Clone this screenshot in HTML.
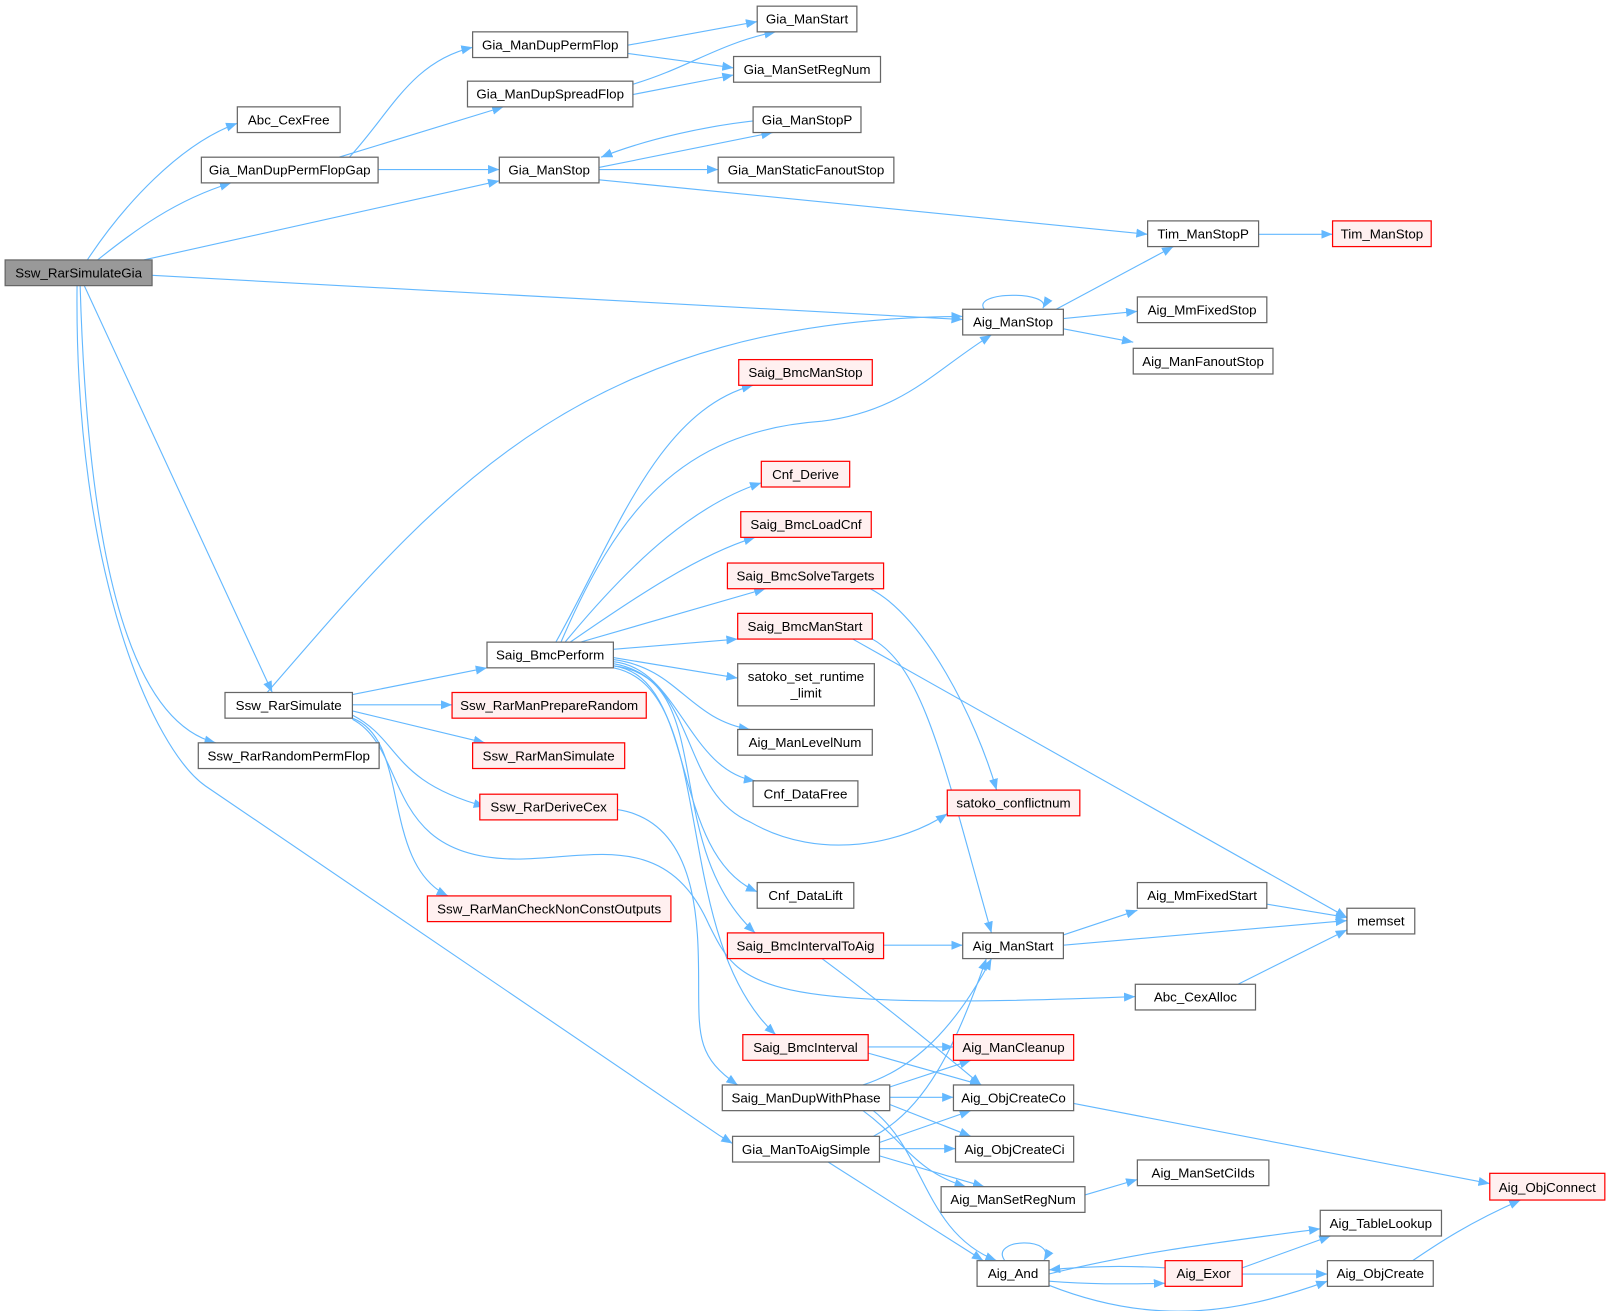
<!DOCTYPE html>
<html><head><meta charset="utf-8"><style>
html,body{margin:0;padding:0;background:#fff;}
svg{display:block;}
text{font-family:"Liberation Sans",Arial,sans-serif;font-size:13px;fill:#000;text-anchor:middle;}
.n{fill:#fff;stroke:#666;stroke-width:1.2;}
.r{fill:#fff0f0;stroke:#f00;stroke-width:1.2;}
.g{fill:#999;stroke:#666;stroke-width:1.2;}
path.e{fill:none;stroke:#63b8ff;stroke-width:1.1;marker-end:url(#a);}
</style></head><body>
<svg width="1611" height="1311" viewBox="0 0 1568 1276" xmlns="http://www.w3.org/2000/svg">
<defs><marker id="a" viewBox="0 0 10 8" refX="10" refY="4" markerWidth="11" markerHeight="9" markerUnits="userSpaceOnUse" orient="auto"><path d="M0,0 L10,4 L0,8 z" fill="#63b8ff"/></marker></defs>
<g>
<path class="e" d="M85,253 C120,200 175,140 231,120"/>
<path class="e" d="M95,253 C130,225 170,195 225,178"/>
<path class="e" d="M140,253 L486,176"/>
<path class="e" d="M148,268 L937,311"/>
<path class="e" d="M82,278 L265,674"/>
<path class="e" d="M78,278 C85,520 120,700 210,723"/>
<path class="e" d="M75,278 C72,560 150,730 200,765 L700,1105 L713,1113"/>
<path class="e" d="M340,153 C380,110 400,60 460,46"/>
<path class="e" d="M330,153 L490,104"/>
<path class="e" d="M368,165 L486,165"/>
<path class="e" d="M611,44 L737,21"/>
<path class="e" d="M611,52 L714,66"/>
<path class="e" d="M616,82 C670,66 700,42 755,31"/>
<path class="e" d="M616,92 L714,73"/>
<path class="e" d="M583,163 L752,129"/>
<path class="e" d="M740,117 C690,122 630,135 585,153"/>
<path class="e" d="M583,165 L699,165"/>
<path class="e" d="M583,175 L1117,228"/>
<path class="e" d="M1225,228 L1297,228"/>
<path class="e" d="M1028,301 L1142,240"/>
<path class="e" d="M958,301 C945,283 1025,283 1015,300"/>
<path class="e" d="M1035,310 L1107,303"/>
<path class="e" d="M1035,320 L1103,333"/>
<path class="e" d="M260,674 C420,490 560,310 937,308"/>
<path class="e" d="M343,676 L474,650"/>
<path class="e" d="M343,686 L440,686"/>
<path class="e" d="M343,692 L472,723"/>
<path class="e" d="M343,696 C390,720 380,760 472,785"/>
<path class="e" d="M343,699 C400,720 370,840 436,872"/>
<path class="e" d="M343,700 C400,730 370,840 510,836 C580,834 650,810 690,900 C720,960 730,985 1105,970"/>
<path class="e" d="M601,788 C680,800 680,900 680,960 C680,1010 680,1030 718,1056"/>
<path class="e" d="M541,625 C600,520 640,400 733,375"/>
<path class="e" d="M546,625 C600,500 660,420 800,410 C880,400 910,360 965,326"/>
<path class="e" d="M550,625 C620,540 680,490 741,470"/>
<path class="e" d="M555,625 C620,580 680,540 735,523"/>
<path class="e" d="M565,625 L745,573"/>
<path class="e" d="M597,632 L718,622"/>
<path class="e" d="M597,640 L718,660"/>
<path class="e" d="M597,642 C660,650 670,700 730,710"/>
<path class="e" d="M597,644 C660,650 670,750 735,760"/>
<path class="e" d="M597,646 C680,660 660,770 730,800 C800,840 880,820 922,792"/>
<path class="e" d="M597,648 C680,660 650,830 737,868"/>
<path class="e" d="M597,648 C700,660 640,820 735,908"/>
<path class="e" d="M597,650 C700,670 650,910 755,1007"/>
<path class="e" d="M847,573 C900,600 950,700 970,769"/>
<path class="e" d="M849,622 C900,650 920,750 965,908"/>
<path class="e" d="M830,622 L1311,893"/>
<path class="e" d="M860,920 L937,920"/>
<path class="e" d="M800,933 C850,970 900,1010 955,1056"/>
<path class="e" d="M1035,910 L1107,886"/>
<path class="e" d="M1035,920 L1311,896"/>
<path class="e" d="M1233,880 L1311,893"/>
<path class="e" d="M1205,958 L1311,905"/>
<path class="e" d="M845,1019 L928,1019"/>
<path class="e" d="M845,1025 L955,1056"/>
<path class="e" d="M866,1068 L928,1068"/>
<path class="e" d="M840,1056 C890,1040 930,1000 965,933"/>
<path class="e" d="M866,1058 L945,1032"/>
<path class="e" d="M866,1075 L945,1106"/>
<path class="e" d="M840,1081 C880,1110 890,1140 940,1155"/>
<path class="e" d="M850,1081 C900,1120 900,1200 970,1227"/>
<path class="e" d="M856,1118 L930,1118"/>
<path class="e" d="M856,1112 L945,1081"/>
<path class="e" d="M850,1106 C900,1080 930,1020 960,933"/>
<path class="e" d="M856,1125 L958,1155"/>
<path class="e" d="M806,1131 L957,1227"/>
<path class="e" d="M1045,1074 L1450,1152"/>
<path class="e" d="M1056,1163 L1107,1148"/>
<path class="e" d="M978,1227 C962,1205 1030,1203 1016,1227"/>
<path class="e" d="M1021,1240 C1100,1220 1180,1210 1285,1196"/>
<path class="e" d="M1021,1247 C1060,1250 1090,1250 1134,1249"/>
<path class="e" d="M1021,1251 C1120,1290 1200,1280 1292,1247"/>
<path class="e" d="M1134,1234 C1100,1232 1060,1232 1021,1236"/>
<path class="e" d="M1209,1234 L1295,1203"/>
<path class="e" d="M1209,1240 L1292,1240"/>
<path class="e" d="M1375,1227 C1400,1210 1430,1190 1480,1168"/>
</g>
<g>
<rect class="g" x="5" y="253" width="143" height="25"/><text x="76.5" y="270">Ssw_RarSimulateGia</text>
<rect class="n" x="231" y="104" width="100" height="25"/><text x="281" y="121">Abc_CexFree</text>
<rect class="n" x="196" y="153" width="172" height="25"/><text x="282" y="170">Gia_ManDupPermFlopGap</text>
<rect class="n" x="460" y="31" width="151" height="25"/><text x="535.5" y="48">Gia_ManDupPermFlop</text>
<rect class="n" x="455" y="79" width="161" height="25"/><text x="535.5" y="96">Gia_ManDupSpreadFlop</text>
<rect class="n" x="737" y="6" width="97" height="25"/><text x="785.5" y="23">Gia_ManStart</text>
<rect class="n" x="714" y="55" width="143" height="25"/><text x="785.5" y="72">Gia_ManSetRegNum</text>
<rect class="n" x="486" y="153" width="97" height="25"/><text x="534.5" y="170">Gia_ManStop</text>
<rect class="n" x="733" y="104" width="105" height="25"/><text x="785.5" y="121">Gia_ManStopP</text>
<rect class="n" x="699" y="153" width="171" height="25"/><text x="784.5" y="170">Gia_ManStaticFanoutStop</text>
<rect class="n" x="1117" y="215" width="108" height="25"/><text x="1171" y="232">Tim_ManStopP</text>
<rect class="r" x="1297" y="215" width="96" height="25"/><text x="1345" y="232">Tim_ManStop</text>
<rect class="n" x="937" y="301" width="98" height="25"/><text x="986" y="318">Aig_ManStop</text>
<rect class="n" x="1107" y="289" width="126" height="25"/><text x="1170" y="306">Aig_MmFixedStop</text>
<rect class="n" x="1103" y="339" width="136" height="25"/><text x="1171" y="356">Aig_ManFanoutStop</text>
<rect class="r" x="719" y="350" width="130" height="25"/><text x="784" y="367">Saig_BmcManStop</text>
<rect class="r" x="741" y="449" width="86" height="25"/><text x="784" y="466">Cnf_Derive</text>
<rect class="r" x="721" y="498" width="127" height="25"/><text x="784.5" y="515">Saig_BmcLoadCnf</text>
<rect class="r" x="708" y="548" width="152" height="25"/><text x="784" y="565">Saig_BmcSolveTargets</text>
<rect class="r" x="718" y="597" width="131" height="25"/><text x="783.5" y="614">Saig_BmcManStart</text>
<rect class="n" x="718" y="646" width="133" height="41"/><text x="784.5" y="663">satoko_set_runtime</text><text x="784.5" y="679">_limit</text>
<rect class="n" x="718" y="710" width="131" height="25"/><text x="783.5" y="727">Aig_ManLevelNum</text>
<rect class="n" x="733" y="760" width="102" height="25"/><text x="784" y="777">Cnf_DataFree</text>
<rect class="r" x="922" y="769" width="129" height="25"/><text x="986.5" y="786">satoko_conflictnum</text>
<rect class="n" x="737" y="859" width="94" height="25"/><text x="784" y="876">Cnf_DataLift</text>
<rect class="r" x="708" y="908" width="152" height="25"/><text x="784" y="925">Saig_BmcIntervalToAig</text>
<rect class="n" x="937" y="908" width="98" height="25"/><text x="986" y="925">Aig_ManStart</text>
<rect class="n" x="1107" y="859" width="126" height="25"/><text x="1170" y="876">Aig_MmFixedStart</text>
<rect class="n" x="1311" y="884" width="66" height="25"/><text x="1344" y="901">memset</text>
<rect class="n" x="1105" y="958" width="117" height="25"/><text x="1163.5" y="975">Abc_CexAlloc</text>
<rect class="r" x="723" y="1007" width="122" height="25"/><text x="784" y="1024">Saig_BmcInterval</text>
<rect class="r" x="928" y="1007" width="117" height="25"/><text x="986.5" y="1024">Aig_ManCleanup</text>
<rect class="n" x="703" y="1056" width="163" height="25"/><text x="784.5" y="1073">Saig_ManDupWithPhase</text>
<rect class="n" x="928" y="1056" width="117" height="25"/><text x="986.5" y="1073">Aig_ObjCreateCo</text>
<rect class="n" x="713" y="1106" width="143" height="25"/><text x="784.5" y="1123">Gia_ManToAigSimple</text>
<rect class="n" x="930" y="1106" width="115" height="25"/><text x="987.5" y="1123">Aig_ObjCreateCi</text>
<rect class="n" x="1107" y="1129" width="128" height="25"/><text x="1171" y="1146">Aig_ManSetCiIds</text>
<rect class="n" x="916" y="1155" width="140" height="25"/><text x="986" y="1172">Aig_ManSetRegNum</text>
<rect class="r" x="1450" y="1142" width="112" height="26"/><text x="1506" y="1160">Aig_ObjConnect</text>
<rect class="n" x="1285" y="1178" width="118" height="25"/><text x="1344" y="1195">Aig_TableLookup</text>
<rect class="n" x="951" y="1227" width="70" height="25"/><text x="986" y="1244">Aig_And</text>
<rect class="r" x="1134" y="1227" width="75" height="25"/><text x="1171.5" y="1244">Aig_Exor</text>
<rect class="n" x="1292" y="1227" width="103" height="25"/><text x="1343.5" y="1244">Aig_ObjCreate</text>
<rect class="n" x="474" y="625" width="123" height="25"/><text x="535.5" y="642">Saig_BmcPerform</text>
<rect class="n" x="219" y="674" width="124" height="25"/><text x="281" y="691">Ssw_RarSimulate</text>
<rect class="n" x="193" y="723" width="176" height="25"/><text x="281" y="740">Ssw_RarRandomPermFlop</text>
<rect class="r" x="440" y="674" width="189" height="25"/><text x="534.5" y="691">Ssw_RarManPrepareRandom</text>
<rect class="r" x="460" y="723" width="148" height="25"/><text x="534" y="740">Ssw_RarManSimulate</text>
<rect class="r" x="467" y="773" width="134" height="25"/><text x="534" y="790">Ssw_RarDeriveCex</text>
<rect class="r" x="416" y="872" width="237" height="25"/><text x="534.5" y="889">Ssw_RarManCheckNonConstOutputs</text>
</g>
</svg>
</body></html>
